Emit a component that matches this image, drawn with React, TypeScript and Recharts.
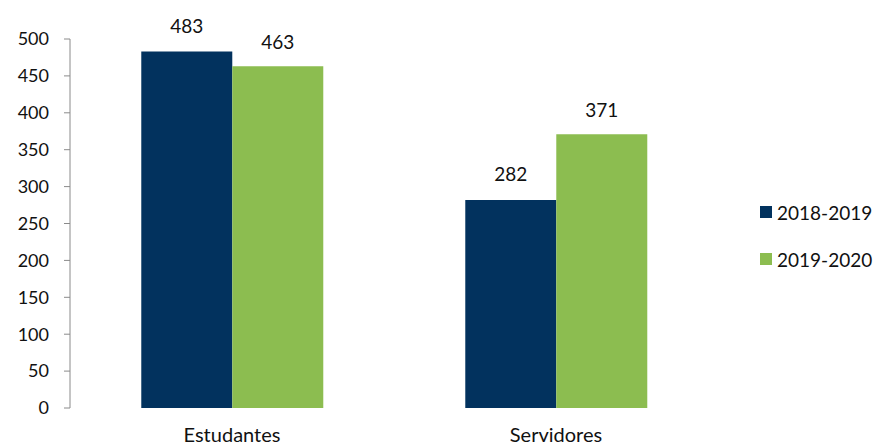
import React from 'react';
import { BarChart, Bar, XAxis, YAxis, Legend, LabelList } from 'recharts';

const categories = ['Estudantes', 'Servidores'];
const series2018 = [483, 282];
const series2020 = [463, 371];
const yTicks = [0, 50, 100, 150, 200, 250, 300, 350, 400, 450, 500];
const seriesNames = ['2018-2019', '2019-2020'];
const colors = ['#02325E', '#8CBD50'];

const data = categories.map((c, i) => ({
  name: c,
  idx: i + 0.5,
  a: series2018[i],
  b: series2020[i],
}));

const FONT = 'Lato, "Open Sans", sans-serif';

const LegendContent = () => (
  <div style={{ fontFamily: FONT, fontSize: 19, color: '#111' }}>
    {seriesNames.map((n, i) => (
      <div key={n} style={{ display: 'flex', alignItems: 'center', height: 24, marginBottom: i === 0 ? 23 : 0 }}>
        <span style={{ display: 'inline-block', width: 12, height: 12, background: colors[i], marginRight: 5 }} />
        <span>{n}</span>
      </div>
    ))}
  </div>
);

export default function App() {
  return (
    <div style={{ position: 'absolute', left: 0, top: 0, width: 877, height: 445, background: '#fff' }}>
      <BarChart
        width={877}
        height={445}
        data={data}
        margin={{ top: 39, right: 159, bottom: 0, left: 0 }}
        barCategoryGap="22%"
        barGap={0}
      >
        <XAxis
          xAxisId="ticks"
          type="number"
          dataKey="idx"
          domain={[0, 2]}
          ticks={[0, 1, 2]}
          height={0}
          tick={false}
          tickSize={6}
          stroke="#8a8a8a"
          axisLine={{ stroke: '#8a8a8a' }}
          tickLine={{ stroke: '#8a8a8a' }}
        />
        <XAxis
          xAxisId="cat"
          dataKey="name"
          height={37}
          axisLine={false}
          tickLine={false}
          tickSize={0}
          tickMargin={20}
          tick={{ fill: '#111', fontSize: 20, fontFamily: FONT }}
        />
        <YAxis
          width={70}
          domain={[0, 500]}
          ticks={yTicks}
          interval={0}
          tickSize={6}
          tickMargin={15}
          axisLine={{ stroke: '#8a8a8a' }}
          tickLine={{ stroke: '#8a8a8a' }}
          tick={{ fill: '#111', fontSize: 18, fontFamily: FONT }}
        />
        <Legend
          layout="vertical"
          align="center"
          verticalAlign="middle"
          content={<LegendContent />}
          wrapperStyle={{ left: 760, top: 200, width: 117 }}
        />
        <Bar xAxisId="cat" dataKey="a" name={seriesNames[0]} fill={colors[0]} isAnimationActive={false}>
          <LabelList dataKey="a" position="top" offset={19} style={{ fill: '#111', fontSize: 19, fontFamily: FONT }} />
        </Bar>
        <Bar xAxisId="cat" dataKey="b" name={seriesNames[1]} fill={colors[1]} isAnimationActive={false}>
          <LabelList dataKey="b" position="top" offset={17} style={{ fill: '#111', fontSize: 19, fontFamily: FONT }} />
        </Bar>
      </BarChart>
    </div>
  );
}
